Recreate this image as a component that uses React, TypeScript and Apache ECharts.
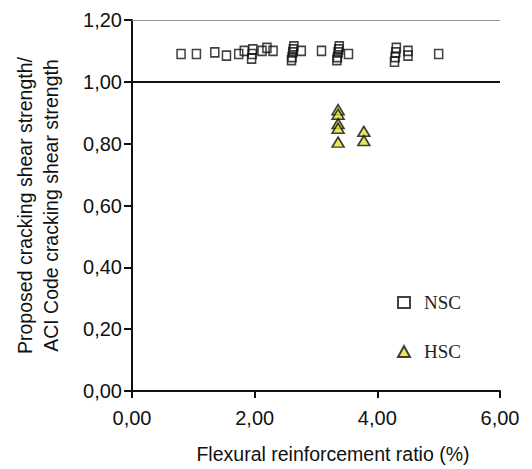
import React, { useEffect, useRef } from "react";
import * as echarts from "echarts";

const nscX = [0.8, 1.05, 1.35, 1.54, 1.74, 1.83, 1.95, 1.96, 1.97, 2.12, 2.2, 2.3, 2.6, 2.61, 2.62, 2.63, 2.64, 2.76, 3.09, 3.34, 3.35, 3.36, 3.37, 3.38, 3.53, 4.28, 4.29, 4.3, 4.31, 4.5, 4.5, 5.0];
const nscY = [1.09, 1.09, 1.095, 1.085, 1.09, 1.1, 1.075, 1.09, 1.105, 1.1, 1.11, 1.1, 1.07, 1.08, 1.095, 1.105, 1.115, 1.1, 1.1, 1.07, 1.08, 1.095, 1.105, 1.115, 1.09, 1.065, 1.08, 1.095, 1.11, 1.085, 1.1, 1.09];
const hscX = [3.36, 3.36, 3.36, 3.36, 3.36, 3.78, 3.78];
const hscY = [0.91, 0.895, 0.865, 0.85, 0.805, 0.84, 0.81];
const xTicks = [0, 2, 4, 6];
const yTicks = [0, 0.2, 0.4, 0.6, 0.8, 1.0, 1.2];
const refLine = 1.0;

const fmt = (v: number) => v.toFixed(2).replace(".", ",");

export default function App() {
  const ref = useRef<HTMLDivElement>(null);
  useEffect(() => {
    if (!ref.current) return;
    const chart = echarts.init(ref.current, undefined, { renderer: "svg" });
    const font = "'Liberation Sans', Arial, sans-serif";
    chart.setOption({
      animation: false,
      backgroundColor: "#ffffff",
      grid: { left: 132, right: 32, top: 20, bottom: 74 },
      legend: {
        orient: "vertical",
        left: 392,
        top: 288,
        itemGap: 30,
        itemWidth: 12,
        itemHeight: 11,
        textStyle: {
          fontFamily: "'Liberation Serif', 'Times New Roman', serif",
          fontSize: 19,
          color: "#222",
          padding: [0, 0, 0, 9],
        },
        data: ["NSC", "HSC"],
      },
      xAxis: {
        type: "value",
        min: xTicks[0],
        max: xTicks[xTicks.length - 1],
        interval: 2,
        name: "Flexural reinforcement ratio (%)",
        nameLocation: "middle",
        nameGap: 53,
        nameTextStyle: { fontFamily: font, fontSize: 19.5, color: "#111", padding: [0, 0, 0, 34] },
        axisLine: { show: true, onZero: false, lineStyle: { color: "#111", width: 2 } },
        axisTick: { show: true, length: 7, lineStyle: { color: "#111", width: 2 } },
        axisLabel: { formatter: fmt, fontFamily: font, fontSize: 20, color: "#111", margin: 17 },
        splitLine: { show: false },
      },
      yAxis: {
        type: "value",
        min: yTicks[0],
        max: yTicks[yTicks.length - 1],
        interval: 0.2,
        name: "Proposed cracking shear strength/\nACI Code cracking shear strength",
        nameLocation: "middle",
        nameGap: 68,
        nameTextStyle: { fontFamily: font, fontSize: 19.5, color: "#111", lineHeight: 26 },
        axisLine: { show: true, lineStyle: { color: "#111", width: 2 } },
        axisTick: { show: true, length: 8, lineStyle: { color: "#111", width: 2 } },
        axisLabel: { formatter: fmt, fontFamily: font, fontSize: 20, color: "#111", margin: 10 },
        splitLine: { show: false },
      },
      series: [
        {
          name: "NSC",
          type: "scatter",
          symbol: "rect",
          symbolSize: [8, 9],
          itemStyle: { color: "rgba(255,255,255,0)", borderColor: "#111", borderWidth: 1.6 },
          data: nscX.map((x, i) => [x, nscY[i]]),
          markLine: {
            silent: true,
            symbol: "none",
            label: { show: false },
            data: [
              { yAxis: refLine, lineStyle: { color: "#111", width: 2, type: "solid" } },
              { yAxis: yTicks[yTicks.length - 1], lineStyle: { color: "#999", width: 1, type: "solid" } },
            ],
          },
          z: 3,
        },
        {
          name: "HSC",
          type: "scatter",
          symbol: "triangle",
          symbolSize: [12, 10],
          itemStyle: { color: "#e4de3e", borderColor: "#111", borderWidth: 1.6 },
          data: hscX.map((x, i) => [x, hscY[i]]),
          z: 4,
        },
      ],
    });
    return () => chart.dispose();
  }, []);
  return (
    <div
      ref={ref}
      style={{ position: "absolute", left: 0, top: 0, width: 532, height: 469 }}
    />
  );
}
